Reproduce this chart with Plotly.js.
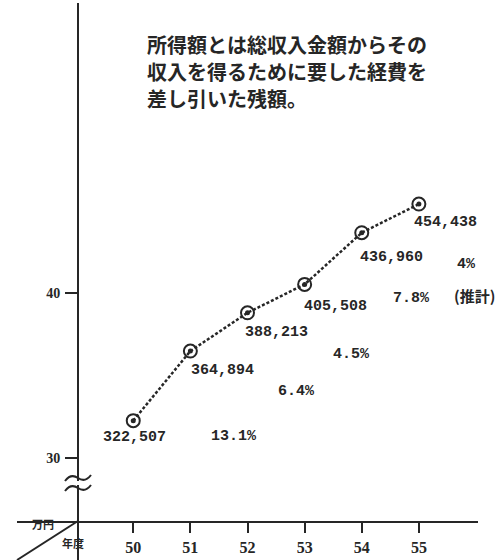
<!DOCTYPE html>
<html>
<head>
<meta charset="utf-8">
<script src="https://cdn.plot.ly/plotly-3.0.1.min.js"></script>
<style>html,body{margin:0;padding:0;background:#fff;}#chart{width:501px;height:560px;}</style>
</head>
<body>
<div id="chart"></div>
<script>
// ---- data ----
const years = [50, 51, 52, 53, 54, 55];
const income = [322507, 364894, 388213, 405508, 436960, 454438];
const incomeLabels = ["322,507", "364,894", "388,213", "405,508", "436,960", "454,438"];
const growthYears = [51, 52, 53, 54, 55];
const growthLabels = ["13.1%", "6.4%", "4.5%", "7.8%", "4%"];
const yTickVals = [300000, 400000];
const yTickText = ["30", "40"];
const noteLines = ["所得額とは総収入金額からその", "収入を得るために要した経費を", "差し引いた残額。"];

// ---- layout helpers ----
const W = 501, H = 560, BOT = 521;
const ink = "#262626";
const px = x => x / W;
const py = y => (BOT - y) / BOT;
const numFont = {family: "Liberation Mono, DejaVu Sans Mono, monospace", size: 15, color: ink, weight: "bold"};
const jpFont = {family: "Noto Sans CJK JP", size: 20, color: ink, weight: "bold"};

const valueShift = [[1, -17], [32, -19], [29, -20], [31, -22], [30, -25], [27, -18]];
const growthShift = [[44, -85], [49, -79], [47, -70], [50, -66], [48, -60]];

const annotations = [];
income.forEach((v, i) => annotations.push({
  x: years[i], y: v, xref: "x", yref: "y", text: incomeLabels[i], showarrow: false,
  xshift: valueShift[i][0], yshift: valueShift[i][1], font: numFont
}));
growthYears.forEach((yr, i) => annotations.push({
  x: yr, y: income[years.indexOf(yr)], xref: "x", yref: "y", text: growthLabels[i], showarrow: false,
  xshift: growthShift[i][0], yshift: growthShift[i][1], font: numFont
}));
annotations.push({x: 55, y: income[5], xref: "x", yref: "y", text: "(推計)", showarrow: false,
  xanchor: "left", xshift: 33, yshift: -91, font: {family: "Noto Sans CJK JP", size: 15, color: ink, weight: "bold"}});
const noteY = [45, 72, 98];
noteLines.forEach((t, i) => annotations.push({
  x: px(145), y: py(noteY[i]), xref: "paper", yref: "paper", xanchor: "left", yanchor: "middle",
  text: t, showarrow: false, font: jpFont
}));
annotations.push({x: px(30), y: py(534), xref: "paper", yref: "paper", text: "万円", showarrow: false,
  font: {family: "Noto Sans CJK JP", size: 11, color: ink, weight: "bold"}});
annotations.push({x: px(60), y: py(553), xref: "paper", yref: "paper", text: "年度", showarrow: false,
  font: {family: "Noto Sans CJK JP", size: 11, color: ink, weight: "bold"}});

function tilde(y) {
  return "M " + px(65) + " " + py(y + 3) + " Q " + px(71) + " " + py(y - 5) + " " + px(78) + " " + py(y) +
         " Q " + px(85) + " " + py(y + 5) + " " + px(91) + " " + py(y - 3);
}
const shapes = [
  {type: "line", xref: "paper", yref: "paper", x0: px(78), x1: px(78), y0: py(3), y1: py(560), line: {color: ink, width: 2}},
  {type: "line", xref: "paper", yref: "paper", x0: px(78), x1: px(17), y0: py(521), y1: py(560), line: {color: ink, width: 2}},
  {type: "rect", xref: "paper", yref: "paper", x0: px(76), x1: px(80), y0: py(481), y1: py(485), fillcolor: "#fff", line: {width: 0}},
  {type: "path", xref: "paper", yref: "paper", path: tilde(478), line: {color: ink, width: 2}},
  {type: "path", xref: "paper", yref: "paper", path: tilde(488), line: {color: ink, width: 2}}
];

const trace = {
  x: years, y: income, type: "scatter", mode: "lines+markers",
  line: {color: ink, width: 2.5, dash: "3px,2px"},
  marker: {symbol: "circle-open", size: 13, color: ink, line: {width: 2, color: ink}},
  hoverinfo: "skip"
};
const dots = {
  x: years, y: income, type: "scatter", mode: "markers",
  marker: {symbol: "circle", size: 5, color: ink},
  hoverinfo: "skip"
};

const layout = {
  width: W, height: H,
  margin: {l: 0, r: 0, t: 0, b: H - BOT, pad: 0},
  paper_bgcolor: "#fff", plot_bgcolor: "#fff",
  showlegend: false,
  xaxis: {
    domain: [px(17), px(478)], range: [47.965, 56.035],
    tickvals: years, ticktext: years.map(String),
    ticks: "outside", ticklen: 10, tickwidth: 2, tickcolor: ink,
    showline: true, linecolor: ink, linewidth: 2,
    showgrid: false, zeroline: false, ticklabelstandoff: 1,
    tickfont: {family: "Liberation Serif, DejaVu Serif, serif", size: 16, color: ink, weight: "bold"}
  },
  yaxis: {
    domain: [0, 1], range: [261400, 578700],
    anchor: "free", position: px(78), side: "left",
    tickvals: yTickVals, ticktext: yTickText,
    ticks: "outside", ticklen: 13, tickwidth: 2, tickcolor: ink,
    showline: false, showgrid: false, zeroline: false, ticklabelstandoff: 2,
    tickfont: {family: "Liberation Serif, DejaVu Serif, serif", size: 14, color: ink, weight: "bold"}
  },
  annotations: annotations,
  shapes: shapes
};

Plotly.newPlot("chart", [trace, dots], layout, {staticPlot: true, displayModeBar: false});
</script>
</body>
</html>
